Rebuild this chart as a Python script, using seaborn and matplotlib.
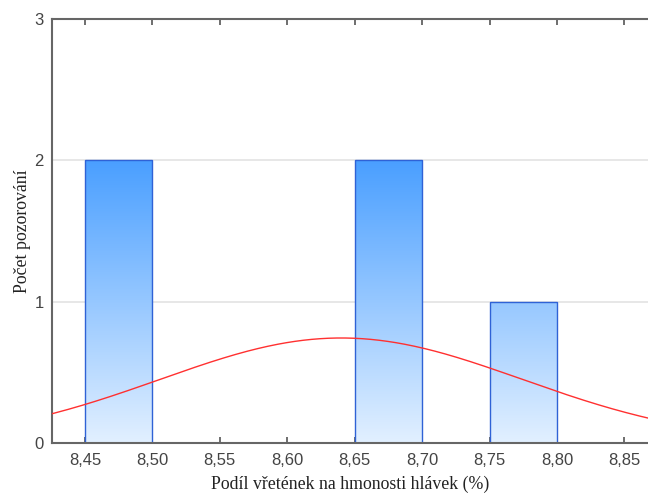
import numpy as np
import pandas as pd
import matplotlib
matplotlib.use("Agg")
import matplotlib.pyplot as plt
import seaborn as sns
from matplotlib.colors import LinearSegmentedColormap

# Histogram of observations (bin edges and counts)
bin_edges = [8.45, 8.50, 8.55, 8.60, 8.65, 8.70, 8.75, 8.80]
counts = [2, 0, 0, 0, 2, 0, 1]
# Fitted normal distribution
fit_mean = 8.64
fit_sd = 0.1342
x_ticks = [8.45, 8.50, 8.55, 8.60, 8.65, 8.70, 8.75, 8.80, 8.85]
y_ticks = [0, 1, 2, 3]

sns.set_theme(style="white")
plt.rcParams["font.family"] = ["Liberation Sans", "DejaVu Sans"]

fig = plt.figure(figsize=(6.48, 4.95), dpi=100)
ax = fig.add_axes([0.0802, 0.105, 0.9198, 0.8566])

edges = np.array(bin_edges)
centers = (edges[:-1] + edges[1:]) / 2
df = pd.DataFrame({"value": centers, "count": counts})
sns.histplot(data=df, x="value", weights="count", bins=list(bin_edges), ax=ax,
             edgecolor="#2f62d6", linewidth=1.0, fill=True, color="white", alpha=1)

# vertical gradient fill clipped to each bar
cmap = LinearSegmentedColormap.from_list("bar", ["#e2f0ff", "#4a9fff"])
grad = np.linspace(0, 1, 256).reshape(-1, 1)
for p in list(ax.patches):
    if p.get_height() <= 0:
        p.set_visible(False)
        continue
    p.set_facecolor("none")
    im = ax.imshow(grad, cmap=cmap, origin="lower", aspect="auto",
                   extent=[8.40, 8.90, 0, 2], zorder=p.get_zorder() - 0.1,
                   interpolation="bilinear")
    im.set_clip_path(p)

# normal curve scaled to counts
n = sum(counts)
bw = edges[1] - edges[0]
xs = np.linspace(8.40, 8.90, 400)
ys = n * bw / (fit_sd * np.sqrt(2 * np.pi)) * np.exp(-0.5 * ((xs - fit_mean) / fit_sd) ** 2)
sns.lineplot(x=xs, y=ys, ax=ax, color="#ff3030", linewidth=1.0, zorder=5)

ax.set_xlim(8.4255, 8.8675)
ax.set_ylim(0, 3)
ax.set_xticks(x_ticks)
ax.set_xticklabels([f"{t:.2f}".replace(".", ",") for t in x_ticks])
ax.set_yticks(y_ticks)
ax.set_yticklabels([str(t) for t in y_ticks])
ax.yaxis.grid(True, color="#e3e3e3", linewidth=1.2)
ax.set_axisbelow(True)

for side in ["left", "bottom", "top"]:
    ax.spines[side].set_visible(True)
    ax.spines[side].set_color("#666666")
    ax.spines[side].set_linewidth(1.5)
ax.spines["right"].set_visible(False)

ax.tick_params(axis="x", direction="in", length=4, width=1.2, color="#555555",
               top=True, bottom=True, labelsize=12, labelcolor="#444444", pad=7)
ax.tick_params(axis="y", length=0, labelsize=12, labelcolor="#444444", pad=6)

ax.set_xlabel("Podíl vřetének na hmonosti hlávek (%)", family=["Liberation Serif"],
              fontsize=12.8, color="#222222", labelpad=6)
ax.set_ylabel("Počet pozorování", family=["Liberation Serif"],
              fontsize=12.8, color="#222222", labelpad=2)

fig.savefig("out.png", dpi=100)
